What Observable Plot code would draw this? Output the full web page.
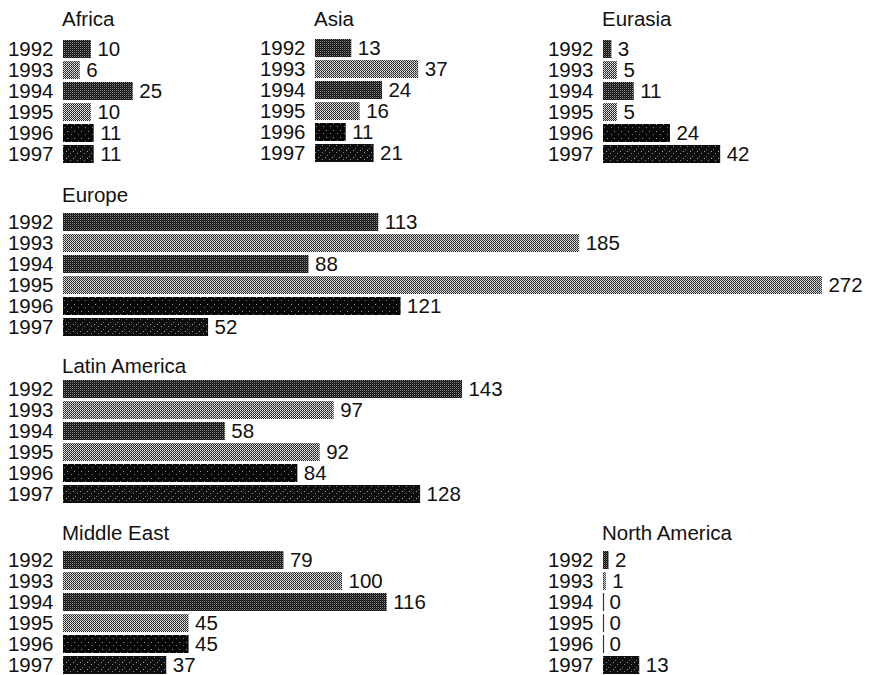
<!DOCTYPE html>
<html>
<head>
<meta charset="utf-8">
<script src="https://cdn.jsdelivr.net/npm/d3@7"></script>
<script src="https://cdn.jsdelivr.net/npm/@observablehq/plot@0.6"></script>
<style>
  html, body { margin: 0; padding: 0; background: #fff; overflow: hidden; }
  #chart { position: relative; width: 869px; height: 675px; font-family: "Liberation Sans", Arial, Helvetica, sans-serif; color: #111; }
  .title { position: absolute; font-size: 20.5px; line-height: 1; white-space: nowrap; }
  .panel { position: absolute; }
</style>
</head>
<body>
<svg width="0" height="0" style="position:absolute">
  <defs>
    <pattern id="pDark" width="2" height="2" patternUnits="userSpaceOnUse">
      <rect x="0" y="0" width="1" height="1" fill="#0d0d0d"/>
      <rect x="1" y="1" width="1" height="1" fill="#0d0d0d"/>
      <rect x="1" y="0" width="1" height="1" fill="#8a8a8a"/>
      <rect x="0" y="1" width="1" height="1" fill="#3a3a3a"/>
    </pattern>
    <pattern id="pLight" width="2" height="2" patternUnits="userSpaceOnUse">
      <rect x="0" y="0" width="1" height="1" fill="#1e1e1e"/>
      <rect x="1" y="1" width="1" height="1" fill="#444"/>
      <rect x="1" y="0" width="1" height="1" fill="#e6e6e6"/>
      <rect x="0" y="1" width="1" height="1" fill="#bdbdbd"/>
    </pattern>
    <pattern id="pBlack" width="7" height="7" patternUnits="userSpaceOnUse">
      <rect x="0" y="0" width="7" height="7" fill="#080808"/>
      <rect x="1" y="2" width="1" height="1" fill="#999"/>
      <rect x="5" y="5" width="1" height="1" fill="#777"/>
    </pattern>
    <pattern id="pBlack2" width="7" height="7" patternUnits="userSpaceOnUse">
      <rect x="0" y="0" width="7" height="7" fill="#0e0e0e"/>
      <rect x="0" y="1" width="1" height="1" fill="#aaa"/>
      <rect x="4" y="3" width="1" height="1" fill="#888"/>
      <rect x="2" y="6" width="1" height="1" fill="#777"/>
    </pattern>
  </defs>
</svg>
<div id="chart"></div>
<script>
// ---- data ----
const years = ["1992", "1993", "1994", "1995", "1996", "1997"];
const regions = ["Africa", "Asia", "Eurasia", "Europe", "Latin America", "Middle East", "North America"];
const africa       = [10, 6, 25, 10, 11, 11];
const asia         = [13, 37, 24, 16, 11, 21];
const eurasia      = [3, 5, 11, 5, 24, 42];
const europe       = [113, 185, 88, 272, 121, 52];
const latinAmerica = [143, 97, 58, 92, 84, 128];
const middleEast   = [79, 100, 116, 45, 45, 37];
const northAmerica = [2, 1, 0, 0, 0, 13];
const seriesByRegion = [africa, asia, eurasia, europe, latinAmerica, middleEast, northAmerica];

// ---- layout (positions only) ----
const layout = {
  "Africa":        {x0: 63,  yc: 48.5,  capTop: 11.7},
  "Asia":          {x0: 315, yc: 47.5,  capTop: 11.7},
  "Eurasia":       {x0: 603, yc: 48,    capTop: 11.7},
  "Europe":        {x0: 63,  yc: 221.5, capTop: 187.5},
  "Latin America": {x0: 63,  yc: 388.5, capTop: 359},
  "Middle East":   {x0: 63,  yc: 559.5, capTop: 525.5},
  "North America": {x0: 603, yc: 559,   capTop: 525.5}
};
const pxPerUnit = 2.79;
const step = 21;
const barH = 18;
const marginLeft = 60;
const fills = ["url(#pDark)", "url(#pLight)", "url(#pDark)", "url(#pLight)", "url(#pBlack)", "url(#pBlack2)"];

const chart = document.getElementById("chart");

regions.forEach((name, i) => {
  const L = layout[name];
  const rows = years.map((y, j) => ({year: y, value: seriesByRegion[i][j]}));
  const left = L.x0 - marginLeft;
  const width = 869 - left;
  const height = step * 6;

  const title = document.createElement("div");
  title.className = "title";
  title.textContent = name;
  title.style.left = (L.x0 - 1) + "px";
  title.style.top = (L.capTop - 2.7) + "px";
  chart.appendChild(title);

  const marks = [
    Plot.barX(rows, {x: "value", y: "year", fill: "year"}),
    Plot.tickX(rows.filter(d => d.value === 0), {x: "value", y: "year", stroke: "#333", strokeWidth: 1.2}),
    Plot.text(rows, {x: "value", y: "year", text: d => String(d.value), textAnchor: "start", dx: 6, fill: "#111"}),
    Plot.axisY({tickSize: 0, tickPadding: 10, label: null, fill: "#111"})
  ];

  const svg = Plot.plot({
    width, height,
    marginLeft, marginRight: 0, marginTop: 0, marginBottom: 0,
    x: {domain: [0, (width - marginLeft) / pxPerUnit], axis: null},
    y: {domain: years, type: "band", paddingInner: (step - barH) / step, paddingOuter: (step - barH) / step / 2, align: 0.5},
    color: {type: "ordinal", domain: years, range: fills},
    style: {fontFamily: "'Liberation Sans', Arial, Helvetica, sans-serif", fontSize: "20.5px", overflow: "visible", maxWidth: "none", background: "transparent", color: "#111"},
    marks
  });
  svg.classList.add("panel");
  svg.style.position = "absolute";
  svg.style.left = left + "px";
  svg.style.top = (L.yc - step / 2) + "px";
  chart.appendChild(svg);
});
</script>
</body>
</html>
